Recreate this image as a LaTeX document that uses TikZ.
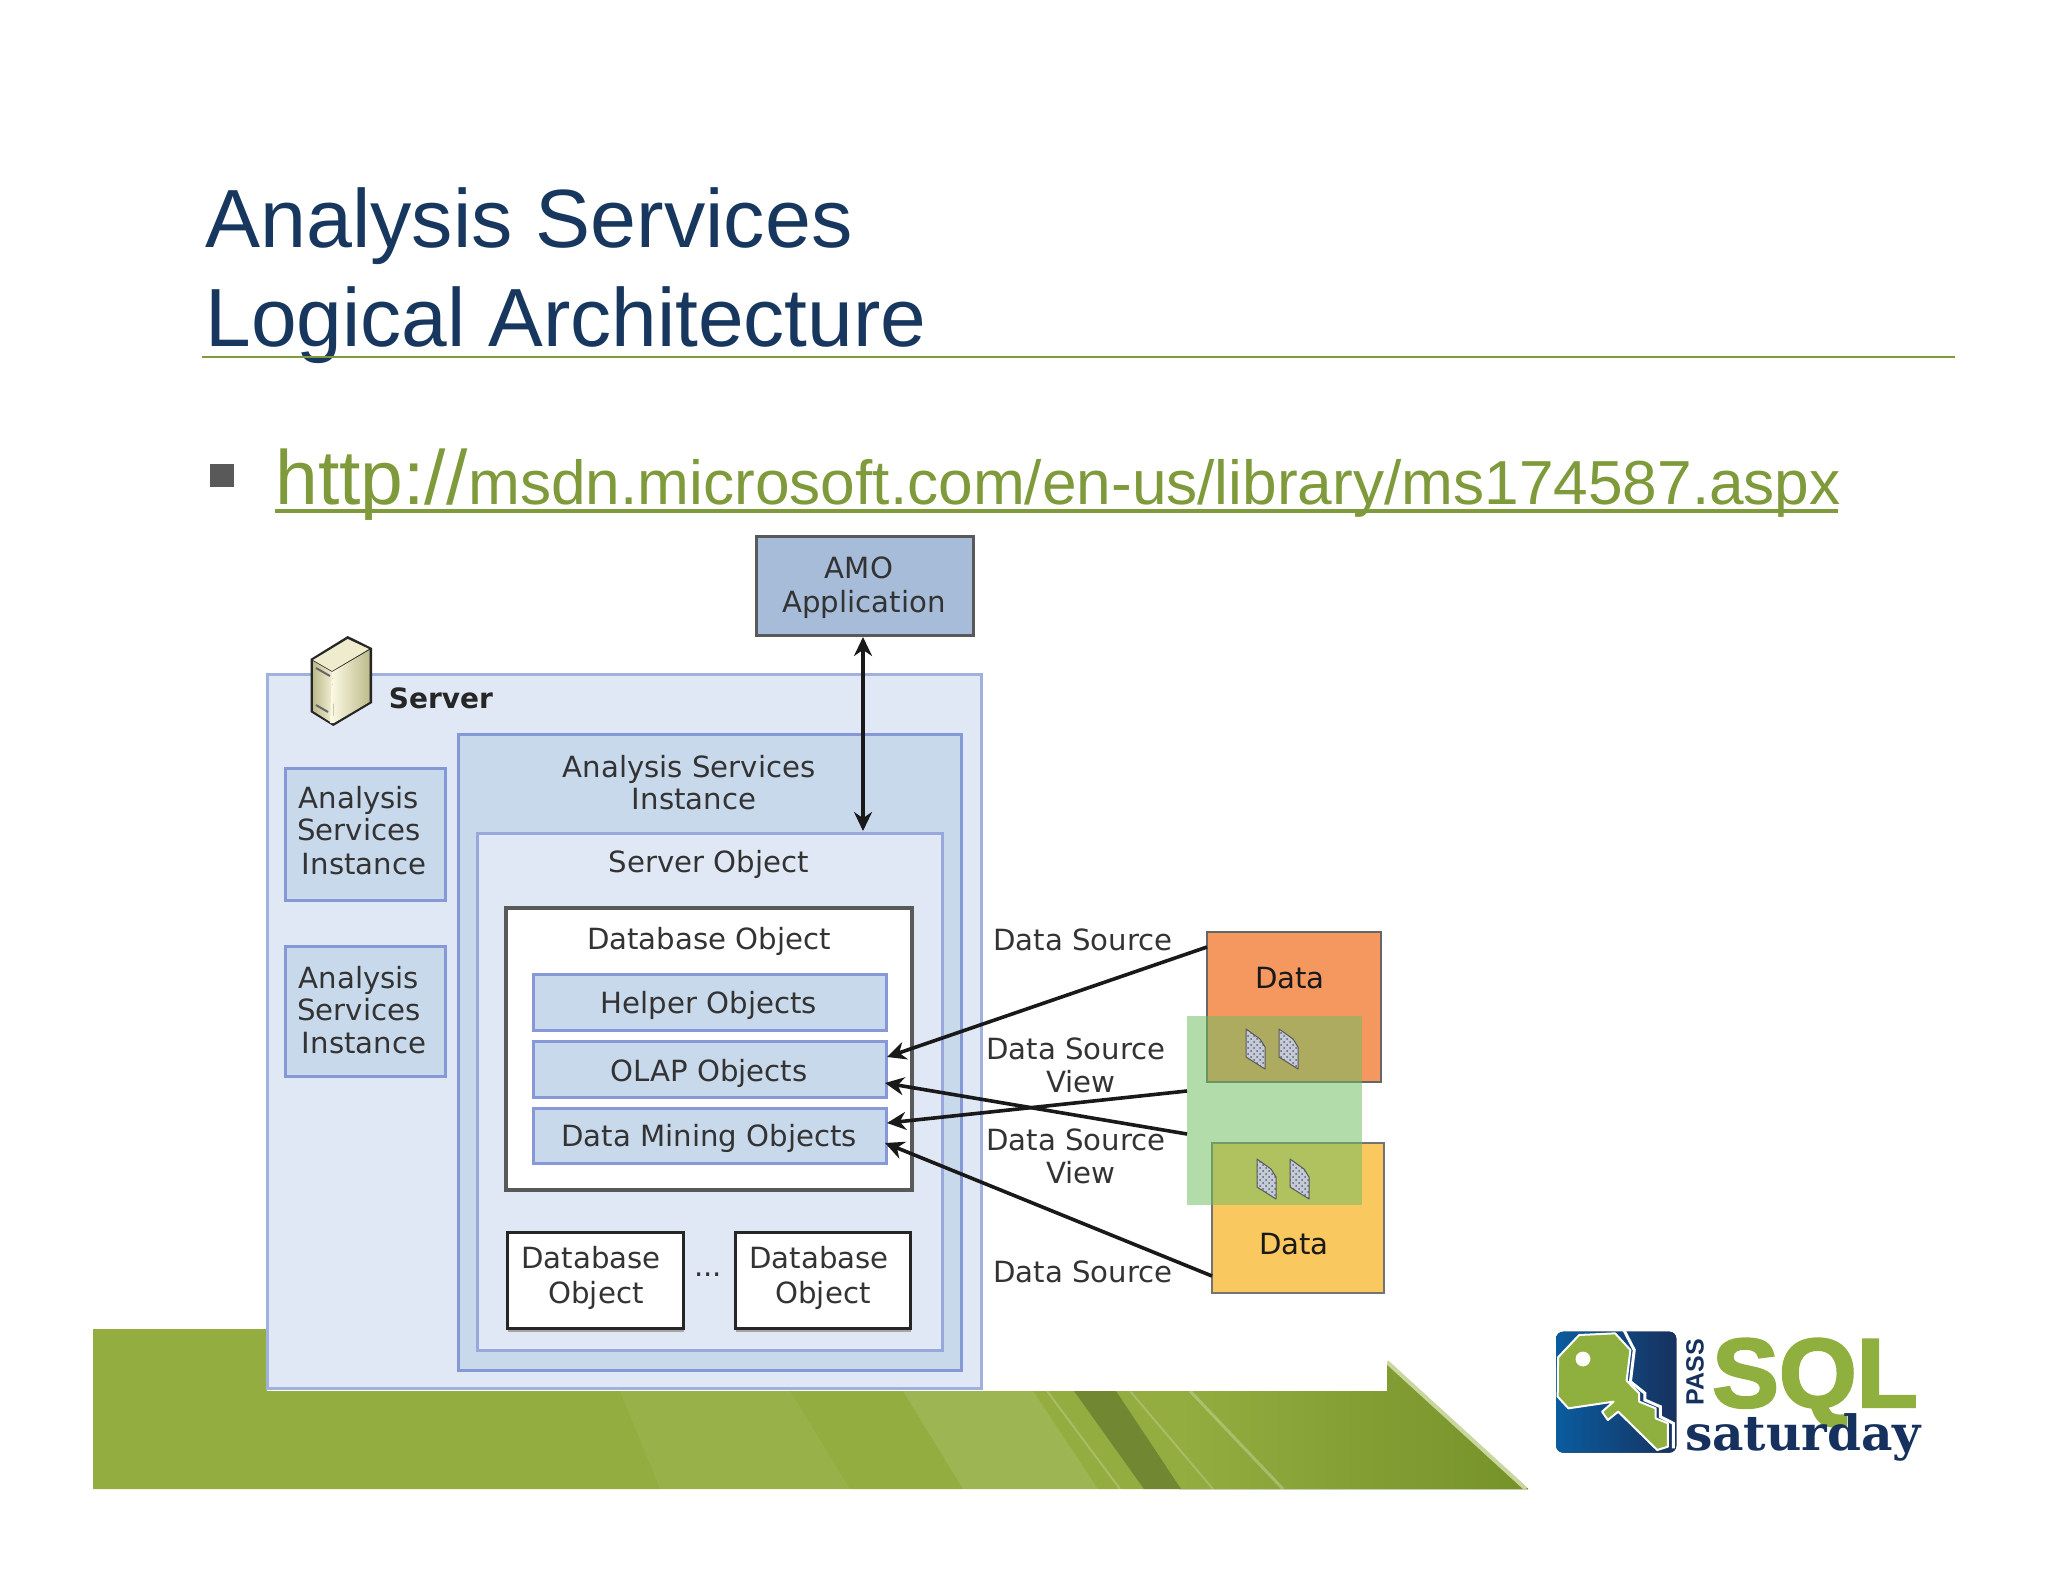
\documentclass[tikz,border=0pt]{standalone}
\usepackage{fontspec}
\usepackage{graphicx}
\setmainfont{Liberation Sans}
\newfontfamily\vfont{DejaVu Sans}
\newfontfamily\sfont{DejaVu Serif}
\newfontfamily\sqlfont[BoldFeatures={FakeBold=2.5}]{Liberation Sans}
\usetikzlibrary{arrows.meta,calc,patterns}
\definecolor{navy}{HTML}{17375E}
\definecolor{olive}{HTML}{7F9A3A}
\definecolor{srvfill}{HTML}{E1E8F5}
\definecolor{srvedge}{HTML}{A0B1DE}
\definecolor{insfill}{HTML}{C9D9EC}
\definecolor{insedge}{HTML}{8698D6}
\definecolor{boxdark}{HTML}{3C3C3C}
\definecolor{txt}{HTML}{333333}
\definecolor{logogreen}{HTML}{8FB03E}
\definecolor{logonavy}{HTML}{17315F}
\definecolor{logoblue}{HTML}{0A5C9E}
\definecolor{amofill}{HTML}{A6BCD8}
\definecolor{orangef}{HTML}{F4985F}
\definecolor{yellowf}{HTML}{F9C85F}
\definecolor{greenf}{RGB}{111,189,96}
\definecolor{bandl}{HTML}{93AD40}
\definecolor{bandr}{HTML}{759229}
\definecolor{srvA}{RGB}{188,186,140}
\definecolor{srvB}{RGB}{240,238,210}
\definecolor{srvC}{RGB}{250,248,225}
\definecolor{srvD}{RGB}{190,188,140}
\definecolor{srvE}{RGB}{238,236,205}
\definecolor{docf}{HTML}{C4CAD6}
\definecolor{docp}{HTML}{5A6478}
\tikzset{
  box/.style={draw,rectangle,inner sep=0pt,outer sep=0pt,line width=#1*0.5pt},
  box/.default=3,
  lbl/.style={font=\vfont\fontsize{14.6}{18}\selectfont,text=txt,inner sep=0pt,anchor=center},
  srv/.style={box,fill=srvfill,draw=srvedge},
  ins/.style={box,fill=insfill,draw=insedge},
  dbx/.style={box=3,fill=white,draw=black!85},
  shad/.style={draw=black!35,line width=1pt},
  link/.style={line width=1.8pt,draw=black!90,>={Stealth[length=9.5pt,width=9pt]}},
  doc/.style={draw=black!65,line width=0.5pt,line join=round},
  head/.style={anchor=base west,inner sep=0pt,text=navy,font=\fontsize{41.3}{48}\selectfont},
}
\newcommand{\rbox}[5]{\node[#1,minimum width=(#4-#2)*0.5pt,minimum height=(#5-#3)*0.5pt,anchor=north west] at (#2,#3)}
\begin{document}
\begin{tikzpicture}[x=0.5pt,y=-0.5pt]
\useasboundingbox (0,0) rectangle (2048,1582);
\fill[white] (0,0) rectangle (2048,1582);
% green band
\fill[bandl] (93,1329) -- (1349,1329) -- (1528,1489) -- (93,1489) -- cycle;
\fill[left color=bandl,right color=bandr] (1180,1391) -- (1387,1391) -- (1387,1362) -- (1528,1489) -- (1180,1489) -- cycle;
\fill[white,opacity=.10] (903,1391) -- (1033,1391) -- (1098,1489) -- (963,1489) -- cycle;
\fill[white,opacity=.05] (620,1391) -- (790,1391) -- (850,1489) -- (660,1489) -- cycle;
\fill[black,opacity=.22] (1074,1391) -- (1116,1391) -- (1181,1489) -- (1144,1489) -- cycle;
\draw[white,opacity=.25,line width=1.5pt] (1190,1391) -- (1283,1489);
\draw[white,opacity=.2,line width=1pt] (1130,1391) -- (1213,1489);
\draw[white,opacity=.2,line width=1pt] (1047,1391) -- (1120,1489);
\draw[line width=2pt,bandl!50!white] (1387,1362) -- (1526,1489);
\fill[white] (267,1300) rectangle (1387,1391);
% title
\node[head] (t1) at (205,248) {Analysis Services};
\node[head] (t2) at (205,347) {\scalebox{0.994}[1]{Logical Architecture}};
\draw[olive,line width=1pt] (202,357) -- (1955,357);
% bullet
\fill[black!65] (210,464) rectangle (234,487);
\node[anchor=base west,inner sep=0pt,text=olive,font=\fontsize{38.4}{44}\selectfont] (u1) at (275,505) {http://};
\node[anchor=base west,inner sep=0pt,text=olive,font=\fontsize{31.1}{36}\selectfont] (u2) at (468,505) {msdn.microsoft.com/en-us/library/ms174587.aspx};
\draw[olive,line width=2pt] (275,511) -- (1838,511);
% AMO
\rbox{box=3,fill=amofill,draw=boxdark!85!white}{756}{537}{973}{635} (amo) {};
\node[lbl] (amot) at (859,568) {AMO};
\node[lbl] (amol) at (864,604) {Application};
% server
\rbox{srv}{267}{674}{981}{1388} (server) {};
\node[lbl,font=\vfont\bfseries\fontsize{14}{17}\selectfont,text=black!85] (servert) at (441,698) {Server};
% server icon
\fill[black!85] (347.7,636) -- (310.5,659) -- (310.5,712) -- (333.3,726) -- (372,703) -- (372,648) -- cycle;
\fill[left color=srvA,right color=srvB] (313,661) -- (332,672) -- (332,723) -- (313,711) -- cycle;
\fill[left color=srvC,right color=srvD] (332,672) -- (369.5,650) -- (369.5,702) -- (334,723) -- cycle;
\fill[srvE] (347.7,639) -- (313,660) -- (332,671) -- (369,649) -- cycle;
\fill[srvC] (332,668) -- (334,723) -- (330,723) -- cycle;
\draw[black!60,line width=1pt] (316,668) -- (330,676) (316,705) -- (328,712);
% analysis instances
\rbox{ins}{285}{768}{445}{900} (as1) {};
\node[lbl] (as1a) at (359,800) {Analysis};
\node[lbl] (as1b) at (359,830) {Services};
\node[lbl] (as1c) at (364,864) {Instance};
\rbox{ins}{285}{946}{445}{1076} (as2) {};
\node[lbl] (as2a) at (359,980) {Analysis};
\node[lbl] (as2b) at (359,1010) {Services};
\node[lbl] (as2c) at (364,1043) {Instance};
\rbox{ins}{458}{734}{961}{1370} (inst) {};
\node[lbl] (insta) at (689,769) {Analysis Services};
\node[lbl] (instb) at (694,799) {Instance};
\rbox{srv,draw=insedge!85!white}{477}{833}{942}{1350} (so) {};
\node[lbl] (sot) at (709,864) {Server Object};
\rbox{box=4,fill=white,draw=black!65}{506}{908}{912}{1190} (db) {};
\node[lbl] (dbt) at (709,941) {Database Object};
\rbox{ins}{533}{974}{886}{1030} (help) {};
\node[lbl] (helpt) at (709,1005) {Helper Objects};
\rbox{ins}{533}{1041}{886}{1097} (olap) {};
\node[lbl] (olapt) at (709,1073) {OLAP Objects};
\rbox{ins}{533}{1108}{886}{1163} (dm) {};
\node[lbl] (dmt) at (709,1138) {Data Mining Objects};
\draw[shad] (508,1331) -- (684,1331);
\rbox{dbx}{507}{1232}{683}{1328} (d1) {};
\node[lbl] (d1a) at (591,1258) {Database};
\node[lbl] (d1b) at (596,1295) {Object};
\node[lbl] (dots) at (708,1275) {...};
\draw[shad] (736,1331) -- (911,1331);
\rbox{dbx}{735}{1232}{910}{1328} (d2) {};
\node[lbl] (d2a) at (819,1258) {Database};
\node[lbl] (d2b) at (823,1295) {Object};
% AMO arrow
\coordinate (amoa) at (863,637);
\coordinate (amob) at (863,831);
\draw[link,<->] (amoa) -- (amob);
% data
\rbox{box=2,fill=orangef,draw=black!60}{1207}{932}{1381}{1082} (orange) {};
\node[lbl,text=black!90] (orat) at (1290,978) {Data};
\rbox{box=2,fill=yellowf,draw=black!55}{1212}{1143}{1384}{1293} (yellow) {};
\node[lbl,text=black!90] (yelt) at (1294,1244) {Data};
\node[rectangle,fill=greenf,fill opacity=.53,minimum width=87.5pt,minimum height=94.5pt,anchor=north west,inner sep=0pt,outer sep=0pt] (green) at (1187,1016) {};
% doc icons
\foreach \x/\y in {1246/1029,1279/1029,1257/1159,1290/1159}{
  \fill[docf] (\x,\y) -- (\x+14,\y+10) -- (\x+19,\y+18) -- (\x+19,\y+40) -- (\x,\y+28) -- cycle;
  \fill[pattern=crosshatch dots,pattern color=docp] (\x,\y) -- (\x+14,\y+10) -- (\x+19,\y+18) -- (\x+19,\y+40) -- (\x,\y+28) -- cycle;
  \draw[doc] (\x,\y) -- (\x+14,\y+10) -- (\x+19,\y+18) -- (\x+19,\y+40) -- (\x,\y+28) -- cycle;
}
% labels of connectors
\node[lbl] (l1) at (1083,940) {Data Source};
\node[lbl] (l2) at (1076,1049) {Data Source};
\node[lbl] (l2b) at (1081,1082) {View};
\node[lbl] (l3) at (1076,1140) {Data Source};
\node[lbl] (l3b) at (1081,1173) {View};
\node[lbl] (l4) at (1083,1272) {Data Source};
% connectors
\coordinate (o1) at (1207,947);
\coordinate (o2) at (1187,1091);
\coordinate (o3) at (1187,1134);
\coordinate (o4) at (1212,1276);
\coordinate (t1x) at (887,1057);
\coordinate (t2x) at (885,1083);
\coordinate (t3x) at (887,1123);
\coordinate (t4x) at (885,1143);
\draw[link,->] (o1) -- (t1x);
\draw[link,->] (o2) -- (t3x);
\draw[link,->] (o3) -- (t2x);
\draw[link,->] (o4) -- (t4x);
% logo
\begin{scope}[shift={(1400,1280)},x=0.5pt/2.613,y=-0.5pt/3]
\fill[left color=logoblue,right color=logonavy,rounded corners=3.5pt] (408,155) rectangle (722,518);
\filldraw[fill=logogreen,draw=white,line width=1pt,line join=round] (413,232) -- (468,165) -- (562,160) -- (602,210) -- (592,302) -- (625,340) -- (625,365) -- (668,385) -- (668,415) -- (700,430) -- (700,500) -- (672,510) -- (570,395) -- (543,420) -- (528,395) -- (558,365) -- (440,385) -- (412,350) -- cycle;
\fill[white] (478,237) circle [radius=3.7pt];
\draw[white,line width=1.5pt] (585,150) -- (612,210) -- (602,305) -- (640,340) -- (640,360) -- (680,380) -- (680,410) -- (714,430) -- (714,505);
\end{scope}
\node[rotate=90,inner sep=0pt,text=logonavy,font=\bfseries\fontsize{12.5}{14}\selectfont] (pass) at (1695,1372) {PASS};
\node[inner sep=0pt,anchor=base,text=logogreen,font=\sqlfont\bfseries\fontsize{49}{56}\selectfont] (sql) at (1815,1407) {\scalebox{1.02}[1]{SQL}};
\node[inner sep=0pt,anchor=base,text=logonavy,font=\sfont\bfseries\fontsize{24.3}{26}\selectfont] (sat) at (1803,1450) {saturday};
\end{tikzpicture}
\end{document}
